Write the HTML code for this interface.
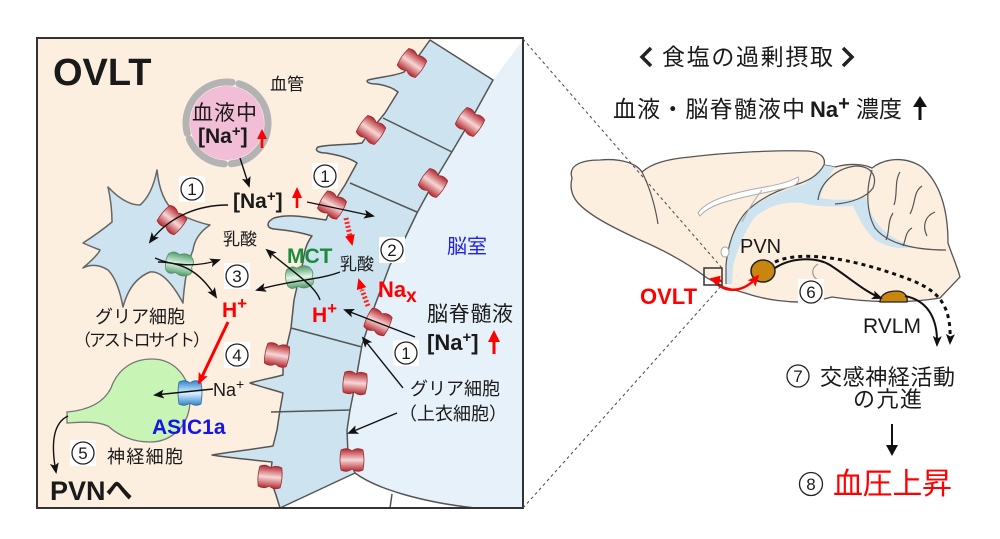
<!DOCTYPE html>
<html><head><meta charset="utf-8">
<style>
html,body{margin:0;padding:0;background:#fff;}
svg{display:block;}
text{font-family:"Liberation Sans","Noto Sans CJK JP",sans-serif;fill:#1a1a1a;}
</style></head><body>
<svg width="1000" height="539" viewBox="0 0 1000 539" xmlns="http://www.w3.org/2000/svg">
<defs>
<marker id="ab" markerWidth="11" markerHeight="9" refX="9" refY="4.5" orient="auto" markerUnits="userSpaceOnUse"><path d="M0,0 L11,4.5 L0,9 L2.5,4.5 Z" fill="#111"/></marker>
<marker id="ar" markerWidth="12" markerHeight="10" refX="10" refY="5" orient="auto" markerUnits="userSpaceOnUse"><path d="M0,0 L12,5 L0,10 L2.5,5 Z" fill="#f00"/></marker>
<marker id="ar2" markerWidth="11" markerHeight="10" refX="9" refY="5" orient="auto" markerUnits="userSpaceOnUse"><path d="M0,0 L11,5 L0,10 Z" fill="#f00"/></marker>
<linearGradient id="gr" x1="0" y1="0" x2="0" y2="1"><stop offset="0" stop-color="#b3262d"/><stop offset="0.5" stop-color="#f7d6d6"/><stop offset="1" stop-color="#b3262d"/></linearGradient>
<linearGradient id="gg" x1="0" y1="0" x2="0" y2="1"><stop offset="0" stop-color="#4a9c66"/><stop offset="0.5" stop-color="#e2f4e6"/><stop offset="1" stop-color="#4a9c66"/></linearGradient>
<linearGradient id="gb" x1="0" y1="0" x2="0" y2="1"><stop offset="0" stop-color="#2f86cc"/><stop offset="0.5" stop-color="#dcefff"/><stop offset="1" stop-color="#2f86cc"/></linearGradient>
<path id="ch" d="M-11,-10 Q-5,-13 0,-9 Q5,-13 11,-10 Q13,0 11,10 Q5,13 0,9 Q-5,13 -11,10 Q-13,0 -11,-10 Z"/>
<path id="mc" d="M-13,-8 Q-8,-13 -2,-9 Q4,-13 10,-9 Q15,-4 12,1 Q15,8 9,10 Q3,13 -3,9 Q-9,13 -13,8 Q-16,0 -13,-8 Z"/>
</defs>

<!-- ===== LEFT PANEL ===== -->
<rect x="37" y="38" width="486" height="470" fill="#fcefe0"/>
<path d="M493,80 L523,40 L523,508 L475,508 C420,502 375,488 355,473 L348,455 L347,430 L350,410 L355,385 L362,345 L375,305 L390,265 L405,238 L417,213 L435,180 L453,150 L472,118 Z" fill="#e7f1fa"/>
<path d="M430,40 L523,40 L493,80 Z" fill="#fff"/>
<path d="M280,508 L355,473 C375,488 420,502 475,508 Z" fill="#fff"/>
<path d="M430,40 L420,54 L404,72 C395,76 380,77 368,80 C365,82 370,84 376,84 C385,85 393,88 398,92 L385,113 L371,130 L362,143 C350,145 330,144 318,147 C314,150 318,153 326,153 C338,155 350,158 357,163 L345,185 L332,205 L326,220 C310,218 290,213 274,218 C266,222 266,228 274,229 C285,230 300,232 312,236 C305,245 304,255 303,262 L299,278 L294,300 L291,328 L287,345 L283,360 L283,375 C272,378 260,380 250,383 C258,386 270,389 283,393 L280,410 L277,430 L273,446 C255,449 230,452 212,455 C230,458 255,460 272,462 L270,478 L276,495 L280,508 L355,473 L348,455 L347,430 L350,410 L355,385 L362,345 L375,305 L390,265 L405,238 L417,213 L435,180 L453,150 L472,118 L493,80 Z" fill="#cde3ef" stroke="#555" stroke-width="1.5" stroke-linejoin="round"/>
<g stroke="#555" stroke-width="1.5" fill="none">
<path d="M383,118 L452,152"/><path d="M350,183 L417,212"/><path d="M291,328 L362,347"/><path d="M271,412 L350,410"/>
<path d="M355,473 C375,488 420,502 475,508"/><path d="M392,494 L390,508"/>
</g>

<!-- astrocyte -->
<path d="M157,170 Q160,200 175,212 Q195,222 210,225 Q195,235 193,250 Q185,270 183,303 Q165,270 150,272 Q130,280 123,307 Q118,280 108,270 Q95,262 83,268 Q98,255 100,250 Q92,247 83,243 Q100,232 112,222 Q112,205 108,187 Q125,205 140,205 Q152,195 157,170 Z" fill="#cde3ef" stroke="#666" stroke-width="1.5" stroke-linejoin="round"/>
<!-- neuron -->
<path d="M67,412 C90,410 104,402 111,388 C118,368 134,359 152,359 C175,359 190,378 190,400 C190,425 172,442 150,442 C132,442 118,435 108,426 C96,421 84,422 67,423 Z" fill="#c8f5b6" stroke="#777" stroke-width="1.3"/>
<!-- blood vessel -->
<circle cx="227" cy="123" r="37" fill="#f2bdd6"/>
<circle cx="227" cy="123" r="41" fill="none" stroke="#b3b3b3" stroke-width="7" stroke-dasharray="60 7 45 6 80 7 52" stroke-linecap="round"/>

<!-- red channels -->
<g fill="url(#gr)" stroke="#9a2a2f" stroke-width="0.8">
<use href="#ch" transform="translate(412,63) rotate(35)"/>
<use href="#ch" transform="translate(470,122) rotate(35)"/>
<use href="#ch" transform="translate(371,130) rotate(35)"/>
<use href="#ch" transform="translate(433,183) rotate(35)"/>
<use href="#ch" transform="translate(332,205) rotate(30)"/>
<use href="#ch" transform="translate(378,322) rotate(25)"/>
<use href="#ch" transform="translate(277,355) rotate(10)"/>
<use href="#ch" transform="translate(355,383) rotate(5)"/>
<use href="#ch" transform="translate(352,460) rotate(0)"/>
<use href="#ch" transform="translate(270,477) rotate(5)"/>
<use href="#ch" transform="translate(172,220) rotate(40)"/>
</g>
<g fill="url(#gg)" stroke="#5a8a66" stroke-width="0.8">
<use href="#mc" transform="translate(180,264) rotate(10)"/>
<use href="#mc" transform="translate(300,277) rotate(-5)"/>
</g>
<path d="M-11,-11 Q-5,-14 0,-10 Q5,-14 11,-11 Q13,0 11,11 Q5,14 0,10 Q-5,14 -11,11 Q-13,0 -11,-11 Z" transform="translate(190,393)" fill="url(#gb)" stroke="#2a6aa0" stroke-width="0.8"/>

<!-- black arrows -->
<g stroke="#111" stroke-width="1.4" fill="none" marker-end="url(#ab)">
<path d="M240,158 L249,186"/>
<path d="M228,205 C200,205 170,215 150,242"/>
<path d="M307,202 L373,216"/>
<path d="M415,337 L345,310"/>
<path d="M403,388 L363,338"/>
<path d="M397,413 L349,433"/>
<path d="M155,258 C170,265 195,268 219,260"/>
<path d="M158,262 C190,262 205,280 216,297"/>
<path d="M340,272 C320,280 290,280 257,290"/>
<path d="M320,300 C315,285 290,270 267,250"/>
<path d="M213,389 L155,395"/>
<path d="M68,416 C55,422 50,440 56,472"/>
</g>
<path d="M228,322 L199,383" stroke="#f00" stroke-width="3" fill="none" marker-end="url(#ar)"/>
<path d="M346,218 L350,236" stroke="#f22" stroke-width="5" stroke-dasharray="2 2" fill="none"/>
<path d="M350,236 L352,244" stroke="#f22" stroke-width="1" fill="none" marker-end="url(#ar2)"/>
<path d="M368,306 L362,290" stroke="#f22" stroke-width="5" stroke-dasharray="2 2" fill="none"/>
<path d="M362,290 L359,280" stroke="#f22" stroke-width="1" fill="none" marker-end="url(#ar2)"/>

<g fill="#f00" stroke="#f00">
<line x1="262" y1="148" x2="262" y2="137" stroke-width="2.6"/><polygon points="257,139 267,139 262,129" stroke="none"/>
<line x1="297" y1="208" x2="297" y2="196" stroke-width="2.6"/><polygon points="292,198 302,198 297,187" stroke="none"/>
<line x1="494" y1="354" x2="494" y2="340" stroke-width="3"/><polygon points="488,342 500,342 494,330" stroke="none"/>
</g>

<!-- circled numbers -->
<g font-size="17">
<rect x="179" y="176" width="26" height="26" fill="#fff"/><circle cx="192" cy="189" r="11" fill="none" stroke="#222" stroke-width="1.3"/><text x="192" y="195" text-anchor="middle" font-size="17">1</text>
<rect x="312" y="163" width="26" height="26" fill="#fff"/><circle cx="325" cy="176" r="11" fill="none" stroke="#222" stroke-width="1.3"/><text x="325" y="182" text-anchor="middle" font-size="17">1</text>
<rect x="393" y="340" width="26" height="26" fill="#fff"/><circle cx="406" cy="353" r="11" fill="none" stroke="#222" stroke-width="1.3"/><text x="406" y="359" text-anchor="middle" font-size="17">1</text>
<rect x="379" y="237" width="26" height="26" fill="#fff"/><circle cx="392" cy="250" r="11" fill="none" stroke="#222" stroke-width="1.3"/><text x="392" y="256" text-anchor="middle" font-size="17">2</text>
<rect x="224" y="263" width="26" height="26" fill="#fff"/><circle cx="237" cy="276" r="11" fill="none" stroke="#222" stroke-width="1.3"/><text x="237" y="282" text-anchor="middle" font-size="17">3</text>
<rect x="224" y="342" width="26" height="26" fill="#fff"/><circle cx="237" cy="355" r="11" fill="none" stroke="#222" stroke-width="1.3"/><text x="237" y="361" text-anchor="middle" font-size="17">4</text>
<rect x="70" y="440" width="26" height="26" fill="#fff"/><circle cx="83" cy="453" r="11" fill="none" stroke="#222" stroke-width="1.3"/><text x="83" y="459" text-anchor="middle" font-size="17">5</text>
</g>

<text x="53" y="85" font-size="38" font-weight="bold" fill="#111">OVLT</text>
<text x="270" y="90" font-size="17">血管</text>
<text x="192" y="120" font-size="21" textLength="65">血液中</text>
<text x="198" y="143" font-size="21" font-weight="bold">[Na<tspan font-size="15" dy="-7">+</tspan><tspan dy="7">]</tspan></text>
<text x="233" y="208" font-size="21" font-weight="bold">[Na<tspan font-size="15" dy="-7">+</tspan><tspan dy="7">]</tspan></text>
<text x="223" y="245" font-size="17">乳酸</text>
<text x="340" y="270" font-size="17">乳酸</text>
<text x="287" y="263" font-size="21" font-weight="bold" style="fill:#1a8c3c">MCT</text>
<text x="378" y="297" font-size="22" font-weight="bold" style="fill:#f00">Na<tspan font-size="19" dy="5">x</tspan></text>
<text x="312" y="322" font-size="21" font-weight="bold" style="fill:#f00">H<tspan font-size="17" dy="-8">+</tspan></text>
<text x="222" y="317" font-size="21" font-weight="bold" style="fill:#f00">H<tspan font-size="17" dy="-8">+</tspan></text>
<text x="447" y="253" font-size="20" style="fill:#2222e6">脳室</text>
<text x="427" y="321" font-size="21" textLength="86">脳脊髄液</text>
<text x="427" y="350" font-size="22" font-weight="bold">[Na<tspan font-size="15" dy="-8">+</tspan><tspan dy="8">]</tspan></text>
<text x="410" y="395" font-size="18" textLength="90">グリア細胞</text>
<text x="399" y="420" font-size="18">（上衣細胞）</text>
<text x="95" y="323" font-size="18" textLength="90">グリア細胞</text>
<text x="74" y="346" font-size="17" textLength="136">（アストロサイト）</text>
<text x="213" y="396" font-size="18">Na<tspan font-size="14" dy="-7">+</tspan></text>
<text x="152" y="434" font-size="21" font-weight="bold" style="fill:#1414e6">ASIC1a</text>
<text x="107" y="463" font-size="18" textLength="76">神経細胞</text>
<text x="50" y="500" font-size="27" font-weight="bold" fill="#111">PVNへ</text>

<rect x="37" y="38" width="486" height="470" fill="none" stroke="#333" stroke-width="2"/>

<!-- ===== RIGHT PANEL ===== -->
<path d="M572,178 C568,166 580,160 600,160 C620,158 636,163 642,172 C652,163 668,159 690,157 C730,152 780,150 808,151 C820,152 826,157 824,165 L835,167 C850,163 864,164 872,168 C885,158 905,156 922,167 C940,183 948,210 948,243 C952,255 957,266 960,277 L940,298 C905,304 865,302 832,297 L812,302 C790,303 765,300 745,293 L724,287 L707,278 C690,265 668,252 640,240 C614,228 590,216 578,203 C571,195 570,186 572,178 Z" fill="#fcefe0" stroke="#555" stroke-width="1.3"/>
<path d="M727,284 L726,262 C727,245 733,228 746,212 C759,200 780,191 805,184 L824,165 L835,167 C829,176 823,186 820,198 C836,201 853,200 866,197 C869,214 879,230 896,239 L912,247 C900,250 886,247 874,239 C863,228 858,216 853,206 C836,207 818,207 802,203 C784,201 768,206 755,217 C745,230 738,248 733,266 L732,284 Z" fill="#cde3ef"/>
<g fill="none" stroke="#555" stroke-width="1.2">
<path d="M642,172 C650,188 655,205 658,224"/>
<path d="M824,165 C818,176 808,181 795,185 C775,191 758,200 746,212 C734,226 728,245 726,265 L726,284"/>
<path d="M818,200 C820,183 836,168 856,166 C870,166 878,175 873,188 C866,198 850,203 835,204"/>
<path d="M872,170 C866,188 866,212 875,228 C886,242 910,250 946,250"/>
<path d="M900,172 C894,182 898,194 894,205"/>
<path d="M922,186 C913,192 916,203 910,214"/>
<path d="M935,212 C925,216 922,226 927,236"/>
<path d="M893,213 C887,222 890,232 886,240"/>
<path d="M912,228 C905,232 906,240 903,246"/>
</g>
<path d="M698,213 C706,200 735,192 765,187 C782,184 793,180 798,177 C800,181 797,185 790,187 C770,192 745,196 725,202 C712,206 704,211 700,216 Z" fill="#fff" stroke="#aaa" stroke-width="1"/>
<path d="M762,190 C754,200 747,212 742,222" fill="none" stroke="#aaa" stroke-width="1"/>
<ellipse cx="725" cy="252" rx="4" ry="5" fill="#fff" stroke="#aaa" stroke-width="1"/>
<path d="M818,264 C811,268 811,276 818,280" fill="none" stroke="#999" stroke-width="1.2"/>

<ellipse cx="763" cy="271" rx="12" ry="11" fill="#c9860f" stroke="#222" stroke-width="1.5"/>
<path d="M880,302 C880,294 888,291 897,291 C905,291 908,297 907,302 Z" fill="#c9860f" stroke="#222" stroke-width="1.3"/>

<path d="M775,262 C800,250 850,258 900,276 C935,288 952,300 950,343" fill="none" stroke="#111" stroke-width="3" stroke-dasharray="4 4" marker-end="url(#ab)"/>
<path d="M775,268 C790,258 815,256 830,265 C850,278 865,292 881,298" fill="none" stroke="#111" stroke-width="2" marker-end="url(#ab)"/>
<path d="M905,296 C925,300 938,315 937,345" fill="none" stroke="#111" stroke-width="2" marker-end="url(#ab)"/>
<path d="M714,281 C724,292 742,295 758,276" fill="none" stroke="#f00" stroke-width="2.5" marker-end="url(#ar)"/>
<path d="M722,281 L711,279" fill="none" stroke="#f00" stroke-width="2.5" marker-end="url(#ar2)"/>

<rect x="704" y="268" width="18" height="17" fill="none" stroke="#333" stroke-width="1.5"/>
<g stroke="#555" stroke-width="1.1" stroke-dasharray="3 3" fill="none">
<path d="M523,39 L722,268"/>
<path d="M523,508 L722,285"/>
</g>

<text x="740" y="253" font-size="20">PVN</text>
<text x="863" y="333" font-size="21">RVLM</text>
<text x="640" y="304" font-size="22" font-weight="bold" style="fill:#f00">OVLT</text>
<rect x="798" y="279" width="26" height="26" fill="#fff"/><circle cx="811" cy="292" r="11" fill="none" stroke="#222" stroke-width="1.3"/><text x="811" y="298" text-anchor="middle" font-size="17">6</text>

<polyline points="651,48 642,57 651,66" fill="none" stroke="#222" stroke-width="3.5"/>
<polyline points="843,48 852,57 843,66" fill="none" stroke="#222" stroke-width="3.5"/>
<text x="662" y="65" font-size="23" textLength="171">食塩の過剰摂取</text>
<text x="613" y="117" font-size="23" textLength="192">血液・脳脊髄液中</text>
<text x="810" y="117" font-size="22" font-weight="bold">Na<tspan font-size="20" dy="-7">+</tspan></text>
<text x="856" y="117" font-size="23" textLength="46">濃度</text>
<line x1="920" y1="120" x2="920" y2="104" stroke="#111" stroke-width="3"/>
<polygon points="913,107 927,107 920,96" fill="#111"/>

<circle cx="798" cy="376" r="11" fill="none" stroke="#222" stroke-width="1.3"/><text x="798" y="382" text-anchor="middle" font-size="17">7</text>
<text x="820" y="385" font-size="22" textLength="135">交感神経活動</text>
<text x="853" y="407" font-size="22" textLength="69">の亢進</text>
<line x1="892" y1="424" x2="892" y2="448" stroke="#111" stroke-width="2"/>
<polygon points="886,445 898,445 892,456" fill="#111"/>
<circle cx="811" cy="484" r="11.5" fill="none" stroke="#222" stroke-width="1.3"/><text x="811" y="490" text-anchor="middle" font-size="17">8</text>
<text x="833" y="494" font-size="30" textLength="119" style="fill:#f00">血圧上昇</text>
</svg>
</body></html>
